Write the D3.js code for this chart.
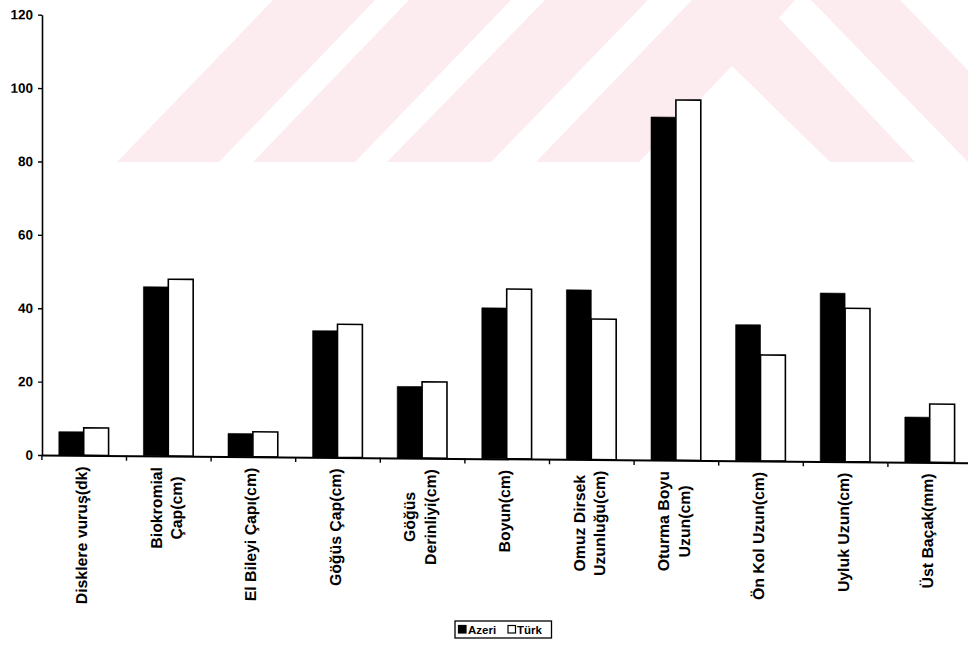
<!DOCTYPE html>
<html>
<head>
<meta charset="utf-8">
<script src="https://cdn.jsdelivr.net/npm/d3@7"></script>
<style>
  html, body { margin: 0; padding: 0; background: #ffffff; }
  svg { display: block; }
  text { font-family: "Liberation Sans", Arial, sans-serif; fill: #000; }
</style>
</head>
<body>
<svg id="chart" width="968" height="645"></svg>
<script>
// Category labels (line breaks as in the printed axis)
const categories = [
  "Disklere vuruş(dk)",
  "Biokromial\nÇap(cm)",
  "El Bileyi Çapı(cm)",
  "Göğüs Çap(cm)",
  "Göğüs\nDerinliyi(cm)",
  "Boyun(cm)",
  "Omuz Dirsek\nUzunluğu(cm)",
  "Oturma Boyu\nUzun(cm)",
  "Ön Kol Uzun(cm)",
  "Uyluk Uzun(cm)",
  "Üst Baçak(mm)"
];
const seriesNames = ["Azeri", "Türk"];
const azeri = [6.4, 46.1, 6.3, 34.5, 19.5, 41.1, 46.2, 93.5, 37.1, 45.9, 12.3];
const turk  = [7.5, 48.2, 6.8, 36.3, 20.8, 46.3, 38.3, 98.2, 28.9, 41.8, 15.9];
const yTicks = [0, 20, 40, 60, 80, 100, 120];

const FONT = '"Liberation Sans", Arial, sans-serif';
const svg = d3.select("#chart");

// Pale emblem printed behind the chart
const emblem = [
  [[117,162],[273,0],[375,0],[219,162]],
  [[253,162],[409,0],[511,0],[355,162]],
  [[387,162],[545,0],[648,0],[491,162]],
  [[536,162],[692,0],[795,0],[779,18],[915,162],[830,162],[732,66],[639,162]],
  [[811,0],[900,0],[1057,162],[968,162]]
];
svg.append("g")
  .selectAll("polygon")
  .data(emblem)
  .join("polygon")
  .attr("points", d => d.map(p => p.join(",")).join(" "))
  .attr("fill", "#fcebef");

// Plot area (printed sheet is slightly sheared)
const plot = { left: 42, top: 14.7, width: 930, height: 440.3 };
const g = svg.append("g")
  .attr("transform", `translate(${plot.left},${plot.top}) skewY(0.476)`);

const rows = categories.map((c, i) => ({ label: c, values: [azeri[i], turk[i]] }));

const x = d3.scaleBand().domain(d3.range(categories.length)).range([-0.6, plot.width]).padding(0);
const x1 = d3.scaleBand().domain(seriesNames).range([0, x.bandwidth()]).paddingInner(0).paddingOuter(0.7);
const y = d3.scaleLinear().domain([0, 120]).range([plot.height, 0]);
const fills = { "Azeri": "#000000", "Türk": "#ffffff" };

// Bars
const groups = g.append("g").selectAll("g")
  .data(rows)
  .join("g")
  .attr("transform", (d, i) => `translate(${x(i)},0)`);
groups.selectAll("rect")
  .data(d => seriesNames.map((s, k) => ({ series: s, value: d.values[k] })))
  .join("rect")
  .attr("x", d => x1(d.series))
  .attr("width", x1.bandwidth())
  .attr("y", d => y(d.value))
  .attr("height", d => y(0) - y(d.value))
  .attr("fill", d => fills[d.series])
  .attr("stroke", "#000")
  .attr("stroke-width", d => d.series === "Türk" ? 1.6 : 0.6);

// Y axis
const yAxis = g.append("g")
  .call(d3.axisLeft(y).tickValues(yTicks).tickSize(4).tickSizeOuter(0).tickPadding(5));
yAxis.select(".domain").attr("stroke", "#000").attr("stroke-width", 1.6);
yAxis.selectAll(".tick line").attr("stroke", "#000").attr("stroke-width", 1.4);
yAxis.selectAll(".tick text")
  .style("font-family", FONT).style("font-size", "13.5px").style("font-weight", "bold");

// X axis with ticks between categories
const xEdges = d3.scaleLinear().domain([0, categories.length]).range(x.range());
const xAxis = g.append("g")
  .attr("transform", `translate(0,${y(0)})`)
  .call(d3.axisBottom(xEdges).tickValues(d3.range(categories.length + 1)).tickFormat("").tickSize(5).tickSizeOuter(0));
xAxis.select(".domain").attr("stroke", "#000").attr("stroke-width", 2);
xAxis.selectAll(".tick line").attr("stroke", "#000").attr("stroke-width", 1.4);

// Rotated category labels, wrapped lines centred on each other
const lineGap = 20.5;
const labels = g.append("g").selectAll("g")
  .data(rows)
  .join("g")
  .attr("transform", (d, i) => `translate(${x(i) + x.bandwidth() / 2},${y(0) + 11}) rotate(-90)`);
labels.each(function (d) {
  const lines = d.label.split("\n");
  const n = lines.length;
  const sel = d3.select(this);
  const texts = lines.map((t, j) => sel.append("text")
    .attr("y", 3.5 + (j - (n - 1) / 2) * lineGap)
    .attr("text-anchor", "middle")
    .style("font-family", FONT)
    .style("font-size", "15.8px")
    .style("font-weight", "bold")
    .text(t));
  const maxW = d3.max(texts, t => t.node().getComputedTextLength());
  texts.forEach(t => t.attr("x", -maxW / 2));
});

// Legend
const legend = svg.append("g").attr("transform", "translate(455,621)");
legend.append("rect").attr("width", 96.5).attr("height", 17)
  .attr("fill", "#fff").attr("stroke", "#000").attr("stroke-width", 1.3);
const items = [
  { name: seriesNames[0], sx: 3.5, tx: 13 },
  { name: seriesNames[1], sx: 53, tx: 62 }
];
items.forEach(it => {
  legend.append("rect").attr("x", it.sx).attr("y", 4.5).attr("width", 7.5).attr("height", 7.5)
    .attr("fill", fills[it.name]).attr("stroke", "#000").attr("stroke-width", 1.2);
  legend.append("text").attr("x", it.tx).attr("y", 12.8)
    .style("font-family", FONT).style("font-size", "11.5px").style("font-weight", "bold")
    .text(it.name);
});
</script>
</body>
</html>
